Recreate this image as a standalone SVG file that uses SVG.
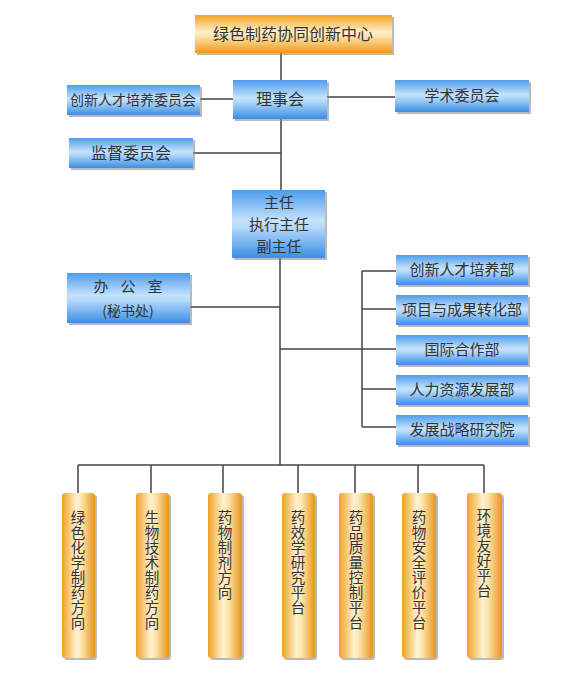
<svg xmlns="http://www.w3.org/2000/svg" width="586" height="675" viewBox="0 0 586 675">
<defs>
<linearGradient id="blue" x1="0" y1="0" x2="0" y2="1">
<stop offset="0" stop-color="#4d9ced"/>
<stop offset="0.45" stop-color="#c4e2fc"/>
<stop offset="0.55" stop-color="#b4d9fb"/>
<stop offset="1" stop-color="#3a8fe4"/>
</linearGradient>
<linearGradient id="orange" x1="0" y1="0" x2="0" y2="1">
<stop offset="0" stop-color="#f3a21f"/>
<stop offset="0.45" stop-color="#fff0c8"/>
<stop offset="0.55" stop-color="#fde6b0"/>
<stop offset="1" stop-color="#f09a14"/>
</linearGradient>
<linearGradient id="pillar" x1="0" y1="0" x2="1" y2="0">
<stop offset="0" stop-color="#efa124"/>
<stop offset="0.45" stop-color="#fff2d2"/>
<stop offset="0.6" stop-color="#fde3a8"/>
<stop offset="1" stop-color="#e8961a"/>
</linearGradient>
<style>
.sh{fill:#8a8a8a;opacity:0.6}
.b{fill:url(#blue)}
.o{fill:url(#orange)}
.p{fill:url(#pillar)}
.t{font-family:"Noto Sans CJK SC","Noto Sans",sans-serif;fill:#333;text-anchor:middle}
.v{font-family:"Noto Sans CJK SC","Noto Sans",sans-serif;fill:#333;font-size:14.5px;writing-mode:vertical-rl;text-anchor:start}
.ln{stroke:#444;stroke-width:1.5;fill:none}
</style>
</defs>
<rect width="586" height="675" fill="#fff"/>
<g id="connectors">
<path class="ln" d="M281 53V80M233 99H200M327 97H395M281 119V190M193 153H281M280 258V465M190 307H280M280 349H362M362 271V427M362 271H396M362 309H396M362 349H396M362 389H396M362 427H396M78 465H484M78 465V493M151 465V493M223 465V493M298 465V493M355 465V493M418 465V493M484 465V493"/>
</g>
<g id="center">
<rect class="sh" x="197" y="17" width="197" height="38"/>
<rect class="o" x="195" y="15" width="197" height="38"/>
<text class="t" x="293" y="40" font-size="16">绿色制药协同创新中心</text>
</g>
<g id="lishihui">
<rect class="sh" x="235" y="82" width="94" height="39"/>
<rect class="b" x="233" y="80" width="94" height="39"/>
<text class="t" x="280" y="105" font-size="16">理事会</text>
</g>
<g id="rencai-wyh">
<rect class="sh" x="69" y="87" width="133" height="30"/>
<rect class="b" x="67" y="85" width="133" height="30"/>
<text class="t" x="133" y="105" font-size="14">创新人才培养委员会</text>
</g>
<g id="xueshu">
<rect class="sh" x="397" y="82" width="134" height="32"/>
<rect class="b" x="395" y="80" width="134" height="32"/>
<text class="t" x="462" y="101" font-size="15">学术委员会</text>
</g>
<g id="jiandu">
<rect class="sh" x="71" y="140" width="124" height="30"/>
<rect class="b" x="69" y="138" width="124" height="30"/>
<text class="t" x="131" y="159" font-size="16">监督委员会</text>
</g>
<g id="zhuren">
<rect class="sh" x="234" y="192" width="93" height="68"/>
<rect class="b" x="232" y="190" width="93" height="68"/>
<text class="t" x="279" y="208" font-size="15">主任</text>
<text class="t" x="279" y="230" font-size="15">执行主任</text>
<text class="t" x="279" y="252" font-size="15">副主任</text>
</g>
<g id="bangongshi">
<rect class="sh" x="69" y="275" width="123" height="50"/>
<rect class="b" x="67" y="273" width="123" height="50"/>
<text class="t" y="292" font-size="15"><tspan x="101">办</tspan><tspan x="128">公</tspan><tspan x="155">室</tspan></text>
<text class="t" x="128" y="316" font-size="14">(秘书处)</text>
</g>
<g id="dept1">
<rect class="sh" x="398" y="257" width="132" height="30"/>
<rect class="b" x="396" y="255" width="132" height="30"/>
<text class="t" x="462" y="275" font-size="15">创新人才培养部</text>
</g>
<g id="dept2">
<rect class="sh" x="398" y="297" width="132" height="30"/>
<rect class="b" x="396" y="295" width="132" height="30"/>
<text class="t" x="462" y="315" font-size="15">项目与成果转化部</text>
</g>
<g id="dept3">
<rect class="sh" x="398" y="337" width="132" height="30"/>
<rect class="b" x="396" y="335" width="132" height="30"/>
<text class="t" x="462" y="355" font-size="15">国际合作部</text>
</g>
<g id="dept4">
<rect class="sh" x="398" y="377" width="132" height="30"/>
<rect class="b" x="396" y="375" width="132" height="30"/>
<text class="t" x="462" y="395" font-size="15">人力资源发展部</text>
</g>
<g id="dept5">
<rect class="sh" x="398" y="417" width="132" height="30"/>
<rect class="b" x="396" y="415" width="132" height="30"/>
<text class="t" x="462" y="435" font-size="15">发展战略研究院</text>
</g>
<g id="p1">
<rect class="sh" x="64" y="495" width="33" height="165" rx="3"/>
<rect class="p" x="62" y="493" width="33" height="165" rx="3"/>
<text class="v" x="78" y="510">绿</text><text class="v" x="78" y="525">色</text><text class="v" x="78" y="540">化</text><text class="v" x="78" y="555">学</text><text class="v" x="78" y="570">制</text><text class="v" x="78" y="585">药</text><text class="v" x="78" y="600">方</text><text class="v" x="78" y="615">向</text>
</g>
<g id="p2">
<rect class="sh" x="138" y="495" width="33" height="165" rx="3"/>
<rect class="p" x="136" y="493" width="33" height="165" rx="3"/>
<text class="v" x="152" y="510">生</text><text class="v" x="152" y="525">物</text><text class="v" x="152" y="540">技</text><text class="v" x="152" y="555">术</text><text class="v" x="152" y="570">制</text><text class="v" x="152" y="585">药</text><text class="v" x="152" y="600">方</text><text class="v" x="152" y="615">向</text>
</g>
<g id="p3">
<rect class="sh" x="210" y="495" width="34" height="165" rx="3"/>
<rect class="p" x="208" y="493" width="34" height="165" rx="3"/>
<text class="v" x="225" y="510">药</text><text class="v" x="225" y="525">物</text><text class="v" x="225" y="540">制</text><text class="v" x="225" y="555">剂</text><text class="v" x="225" y="570">方</text><text class="v" x="225" y="585">向</text>
</g>
<g id="p4">
<rect class="sh" x="284" y="495" width="33" height="165" rx="3"/>
<rect class="p" x="282" y="493" width="33" height="165" rx="3"/>
<text class="v" x="298" y="510">药</text><text class="v" x="298" y="525">效</text><text class="v" x="298" y="540">学</text><text class="v" x="298" y="555">研</text><text class="v" x="298" y="570">究</text><text class="v" x="298" y="585">平</text><text class="v" x="298" y="600">台</text>
</g>
<g id="p5">
<rect class="sh" x="341" y="495" width="34" height="165" rx="3"/>
<rect class="p" x="339" y="493" width="34" height="165" rx="3"/>
<text class="v" x="356" y="510">药</text><text class="v" x="356" y="525">品</text><text class="v" x="356" y="540">质</text><text class="v" x="356" y="555">量</text><text class="v" x="356" y="570">控</text><text class="v" x="356" y="585">制</text><text class="v" x="356" y="600">平</text><text class="v" x="356" y="615">台</text>
</g>
<g id="p6">
<rect class="sh" x="404" y="495" width="34" height="165" rx="3"/>
<rect class="p" x="402" y="493" width="34" height="165" rx="3"/>
<text class="v" x="419" y="510">药</text><text class="v" x="419" y="525">物</text><text class="v" x="419" y="540">安</text><text class="v" x="419" y="555">全</text><text class="v" x="419" y="570">评</text><text class="v" x="419" y="585">价</text><text class="v" x="419" y="600">平</text><text class="v" x="419" y="615">台</text>
</g>
<g id="p7">
<rect class="sh" x="469" y="495" width="35" height="165" rx="3"/>
<rect class="p" x="467" y="493" width="35" height="165" rx="3"/>
<text class="v" x="484" y="508">环</text><text class="v" x="484" y="523">境</text><text class="v" x="484" y="538">友</text><text class="v" x="484" y="553">好</text><text class="v" x="484" y="568">平</text><text class="v" x="484" y="583">台</text>
</g>
</svg>
